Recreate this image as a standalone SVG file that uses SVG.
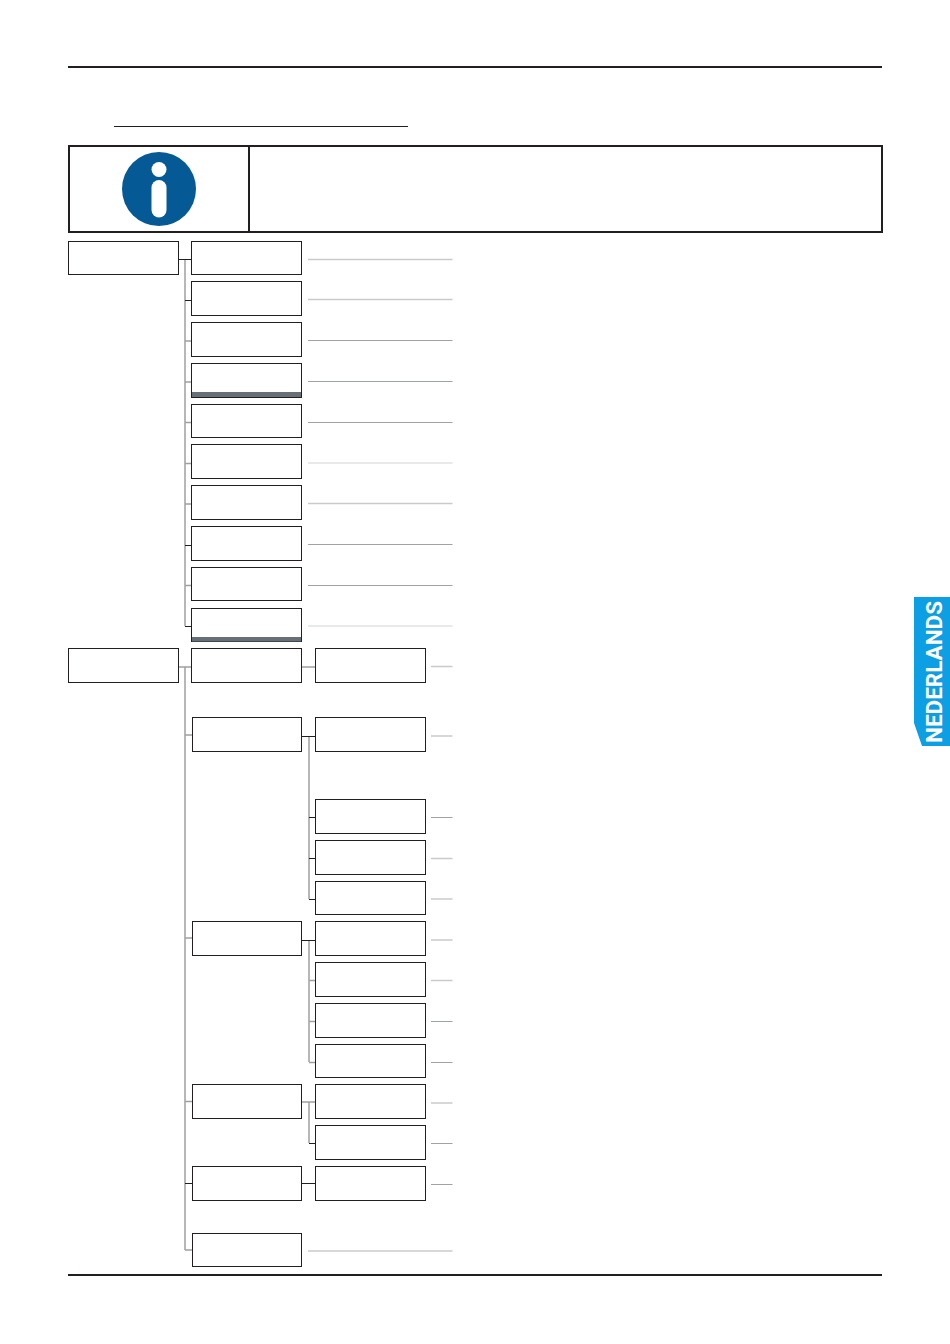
<svg xmlns="http://www.w3.org/2000/svg" width="950" height="1344" viewBox="0 0 950 1344">
<style>
.n{fill:#fff;stroke:#231f20;stroke-width:1}
.r{stroke:#231f20;stroke-width:2;fill:none}
.v{stroke:#a0a0a0;stroke-width:1.5;fill:none}
.k{stroke:#231f20;stroke-width:1;fill:none}
.g{stroke:#a0a0a0;stroke-width:1.4;fill:none}
.l1{stroke:#c9cacb;stroke-width:1.3;fill:none}
.l2{stroke:#a0a3a6;stroke-width:1;fill:none}
.l3{stroke:#dfe2e4;stroke-width:1.3;fill:none}
.bar{fill:#677077}
</style>
<rect width="950" height="1344" fill="#fff"/>
<g id="page">
<path class="r" d="M68 67H882M68 1275H882"/>
<path d="M114 126.500H408" stroke="#231f20" stroke-width="1" fill="none"/>
</g>
<g id="info">
<path class="r" d="M69 146H882V232H69ZM249 146V232"/>
<circle cx="159" cy="189" r="37" fill="#055a96"/>
<circle cx="159" cy="169.500" r="7.500" fill="#fff"/>
<rect x="151.500" y="180" width="15" height="37.500" rx="7.500" fill="#fff"/>
</g>
<g id="connectors">
<path class="v" d="M185 260V626M185 667V1250M309 737V899M309 941V1062M309 1102V1143"/>
<path class="k" d="M179 259.500H191M185 300.500H191M185 545.500H191M185 626.500H191M185 1183.500H192M302 736.500H315M309 817.500H315M309 858.500H315M302 1183.500H315M309 1143.500H315M302 940.500H315M309 899.500H315"/>
<path class="g" d="M185 341H191M185 382H191M185 422.500H191M185 463.500H191M185 504H191M185 585.500H191M179 667H191M302 667H315M185 735H192M185 938H192M185 1101.500H192M185 1250H192M302 1102H315M309 980.500H315M309 1021.500H315M309 1062.500H315"/>
<path class="l1" d="M308 259.500H452.500M308 299.500H452.500M308 503.500H452.500M431 666.500H452.500M431 736H452.500M431 858.500H452.500M431 899H452.500M431 940H452.500M431 980.500H452.500M431 1103H452.500M308 1251H452.500"/>
<path class="l2" d="M308 340.500H452.500M308 381.500H452.500M308 422.500H452.500M308 544.500H452.500M308 585.500H452.500M431 817.500H452.500M431 1021.500H452.500M431 1062.500H452.500M431 1143.500H452.500M431 1184.500H452.500"/>
<path class="l3" d="M308 463H452.500M308 626H452.500"/>
</g>
<g id="a1"><rect class="n" x="68.500" y="241.500" width="110" height="33"/></g>
<g id="b1"><rect class="n" x="191.500" y="241.500" width="110" height="33"/></g>
<g id="b2"><rect class="n" x="191.500" y="281.500" width="110" height="34"/></g>
<g id="b3"><rect class="n" x="191.500" y="322.500" width="110" height="34"/></g>
<g id="b4"><rect class="n" x="191.500" y="363.500" width="110" height="34"/><rect class="bar" x="192" y="392" width="109" height="5"/></g>
<g id="b5"><rect class="n" x="191.500" y="404.500" width="110" height="33"/></g>
<g id="b6"><rect class="n" x="191.500" y="444.500" width="110" height="34"/></g>
<g id="b7"><rect class="n" x="191.500" y="485.500" width="110" height="34"/></g>
<g id="b8"><rect class="n" x="191.500" y="526.500" width="110" height="34"/></g>
<g id="b9"><rect class="n" x="191.500" y="567.500" width="110" height="33"/></g>
<g id="b10"><rect class="n" x="191.500" y="608.500" width="110" height="33"/><rect class="bar" x="192" y="637" width="109" height="4.500"/></g>
<g id="a2"><rect class="n" x="68.500" y="648.500" width="110" height="34"/></g>
<g id="c1"><rect class="n" x="191.500" y="648.500" width="110" height="34"/></g>
<g id="c2"><rect class="n" x="192.500" y="717.500" width="109" height="34"/></g>
<g id="c3"><rect class="n" x="192.500" y="921.500" width="109" height="34"/></g>
<g id="c4"><rect class="n" x="192.500" y="1084.500" width="109" height="34"/></g>
<g id="c5"><rect class="n" x="192.500" y="1166.500" width="109" height="34"/></g>
<g id="c6"><rect class="n" x="192.500" y="1233.500" width="109" height="33"/></g>
<g id="d1"><rect class="n" x="315.500" y="648.500" width="110" height="34"/></g>
<g id="d2"><rect class="n" x="315.500" y="717.500" width="110" height="34"/></g>
<g id="d3"><rect class="n" x="315.500" y="799.500" width="110" height="34"/></g>
<g id="d4"><rect class="n" x="315.500" y="840.500" width="110" height="34"/></g>
<g id="d5"><rect class="n" x="315.500" y="881.500" width="110" height="33"/></g>
<g id="d6"><rect class="n" x="315.500" y="921.500" width="110" height="34"/></g>
<g id="d7"><rect class="n" x="315.500" y="962.500" width="110" height="34"/></g>
<g id="d8"><rect class="n" x="315.500" y="1003.500" width="110" height="34"/></g>
<g id="d9"><rect class="n" x="315.500" y="1044.500" width="110" height="33"/></g>
<g id="d10"><rect class="n" x="315.500" y="1084.500" width="110" height="34"/></g>
<g id="d11"><rect class="n" x="315.500" y="1125.500" width="110" height="34"/></g>
<g id="d12"><rect class="n" x="315.500" y="1166.500" width="110" height="34"/></g>
<g id="tab">
<polygon points="914,597 950,597 950,746 922,746 914,723" fill="#0d9fe3"/>
<text transform="translate(942,743) rotate(-90)" font-family="Roboto, 'Liberation Sans', sans-serif" font-weight="700" font-size="22.500" fill="#fff">NEDERLANDS</text>
</g>
</svg>
